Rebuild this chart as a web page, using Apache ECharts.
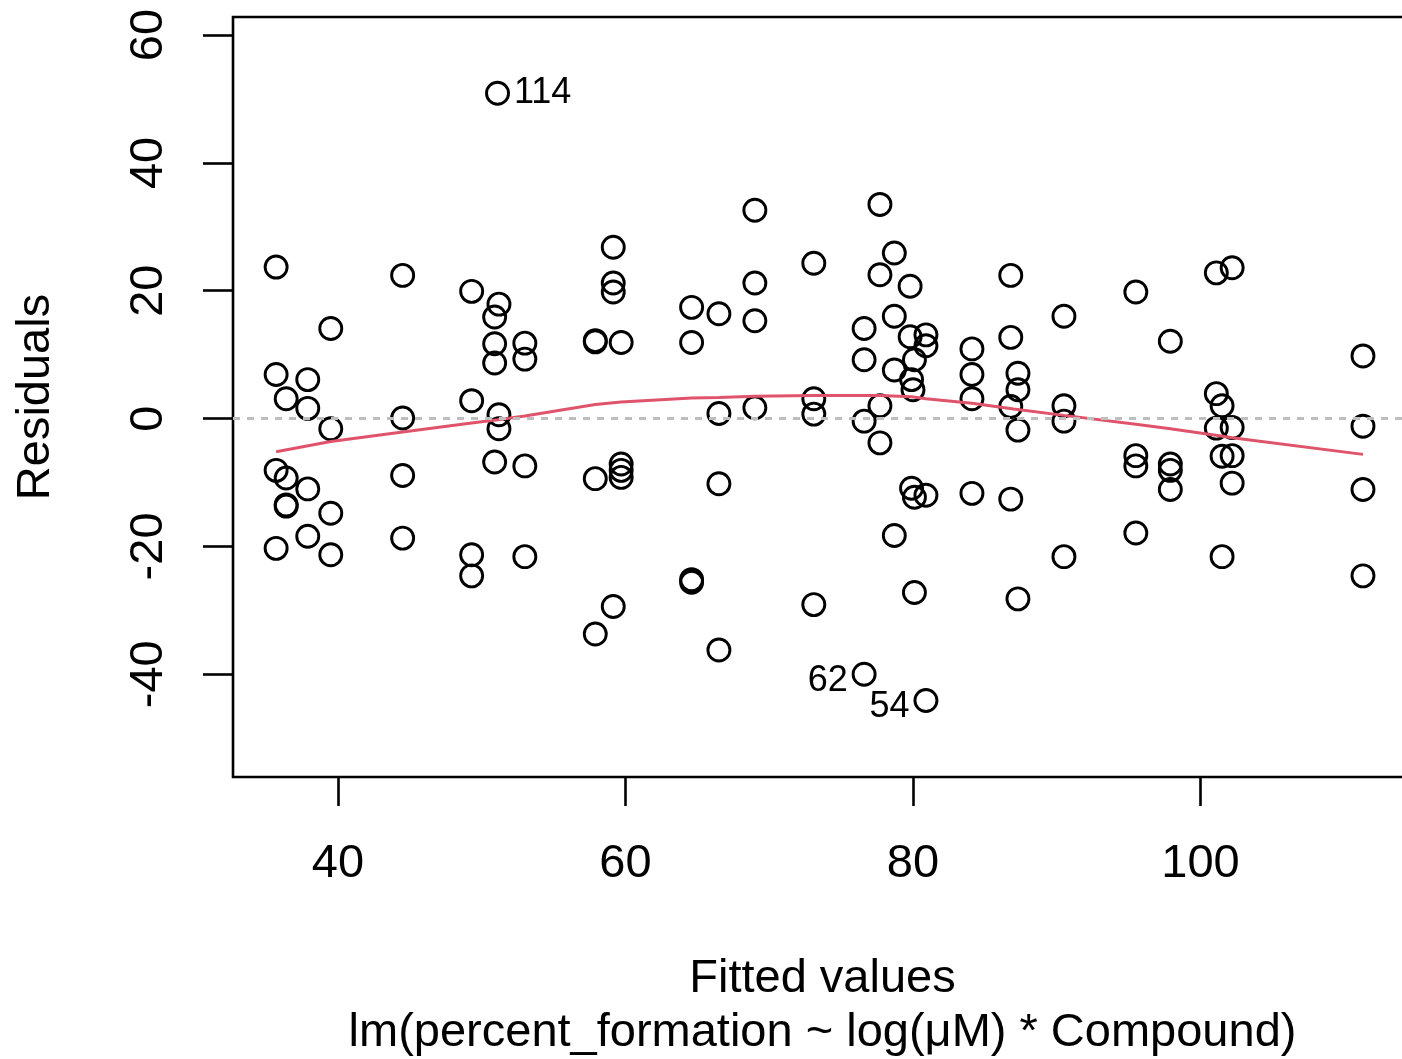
<!DOCTYPE html>
<html>
<head>
<meta charset="utf-8">
<title>Residuals vs Fitted</title>
<script src="https://cdn.jsdelivr.net/npm/echarts@6/dist/echarts.min.js"></script>
<style>
  html, body { margin: 0; padding: 0; background: #fff; }
  #chart { width: 1402px; height: 1059px; }
</style>
</head>
<body>
<div id="chart"></div>
<script>
// fitted values / residuals, grouped by fitted value
const fitted = [
  35.7, 35.7, 35.7, 35.7,
  36.4, 36.4, 36.4, 36.4,
  37.9, 37.9, 37.9, 37.9,
  39.5, 39.5, 39.5, 39.5,
  44.5, 44.5, 44.5, 44.5,
  49.3, 49.3, 49.3, 49.3,
  50.9, 50.9, 50.9, 50.9,
  51.2, 51.2, 51.2,
  53.0, 53.0, 53.0, 53.0,
  57.9, 57.9, 57.9, 57.9,
  59.15, 59.15, 59.15, 59.15,
  59.7, 59.7, 59.7, 59.7,
  64.6, 64.6, 64.6, 64.6,
  66.5, 66.5, 66.5, 66.5,
  69.0, 69.0, 69.0, 69.0,
  73.1, 73.1, 73.1, 73.1,
  76.6, 76.6, 76.6,
  77.7, 77.7, 77.7, 77.7,
  78.7, 78.7, 78.7, 78.7,
  79.8, 79.8, 80.1, 79.9, 80.0, 79.9, 80.1, 80.1,
  80.9, 80.9, 80.9,
  84.1, 84.1, 84.1, 84.1,
  86.8, 86.8, 86.8, 86.8,
  87.3, 87.3, 87.3, 87.3,
  90.5, 90.5, 90.5, 90.5,
  95.5, 95.5, 95.5, 95.5,
  97.9, 97.9, 97.9, 97.9,
  101.1, 101.1, 101.1,
  101.5, 101.5, 101.5,
  102.2, 102.2, 102.2, 102.2,
  111.3, 111.3, 111.3, 111.3
]
const residuals = [
  23.7, 6.9, -8.1, -20.3,
  3.1, -9.3, -13.5, -13.7,
  6.1, 1.6, -11.0, -18.4,
  14.1, -1.6, -14.8, -21.3,
  22.4, 0.1, -8.9, -18.7,
  19.9, 2.8, -21.3, -24.6,
  15.9, 11.7, 8.7, -6.8,
  17.9, 0.6, -1.6,
  11.8, 9.3, -7.4, -21.6,
  12.2, 12.0, -9.4, -33.7,
  26.8, 21.2, 19.8, -29.4,
  11.9, -7.1, -8.1, -9.2,
  17.4, 11.9, -25.2, -25.6,
  16.4, 0.8, -10.2, -36.2,
  32.6, 21.2, 15.3, 1.7,
  24.3, 3.1, 0.7, -29.1,
  14.1, 9.2, -0.4,
  33.5, 22.5, 2.0, -3.8,
  25.9, 16.0, 7.6, -18.3,
  20.7, 12.8, 9.2, 6.1, 4.5, -10.9, -12.3, -27.2,
  13.1, 11.4, -12.0,
  10.9, 6.9, 3.1, -11.7,
  22.4, 12.7, 1.9, -12.6,
  7.1, 4.5, -1.8, -28.2,
  16.0, 2.0, -0.4, -21.6,
  19.8, -5.8, -7.4, -17.9,
  12.1, -7.1, -8.1, -11.1,
  22.8, 3.9, -1.5,
  2.0, -5.9, -21.6,
  23.6, -1.4, -5.8, -10.1,
  9.8, -1.2, -11.1, -24.6
]

// labelled observations (largest residuals)
const outlierIds = ['114', '62', '54']
const outlierFitted = [51.1, 76.6, 80.9]
const outlierResid = [50.9, -40.0, -44.1]

// smoother through the residuals
const smoothFitted = [35.7, 39.5, 44.5, 49.3, 51.1, 53.0, 57.9, 59.7, 64.6, 66.5, 69.0, 73.1, 76.6, 77.7, 79.9, 80.9, 84.1, 87.0, 90.5, 95.5, 97.9, 101.3, 102.2, 111.3]
const smoothResid = [-5.2, -3.6, -2.1, -0.7, -0.2, 0.4, 2.2, 2.6, 3.2, 3.3, 3.5, 3.6, 3.6, 3.6, 3.4, 3.1, 2.4, 1.5, 0.5, -0.9, -1.6, -2.7, -3.0, -5.6]

const xTicks = [40, 60, 80, 100]
const yTicks = [-40, -20, 0, 20, 40, 60]

const font = "'Liberation Sans', Arial, Helvetica, sans-serif"
const circleStyle = {
  color: 'rgba(0,0,0,0)',
  borderColor: '#000',
  borderWidth: 2.9,
  opacity: 1
}

const chart = echarts.init(document.getElementById('chart'), null, { renderer: 'canvas' })

const points = fitted.map((f, i) => [f, residuals[i]])
const outliers = outlierIds.map((id, i) => {
  const right = outlierFitted[i] < 70
  return {
    value: [outlierFitted[i], outlierResid[i]],
    label: {
      show: true,
      formatter: id,
      position: right ? 'right' : 'left',
      distance: 4,
      offset: right ? [0, 0] : [0, 7]
    }
  }
})

const option = {
  animation: false,
  backgroundColor: '#fff',
  grid: {
    left: 233,
    top: 17,
    right: -10,
    bottom: 282,
    outerBoundsMode: 'none',
    show: true,
    borderColor: '#000',
    borderWidth: 2.6,
    backgroundColor: 'rgba(0,0,0,0)'
  },
  xAxis: {
    type: 'value',
    min: 32.70,
    max: 114.71,
    name: 'Fitted values\nlm(percent_formation ~ log(μM) * Compound)',
    nameLocation: 'middle',
    nameGap: 175,
    nameTextStyle: { fontFamily: font, fontSize: 47, color: '#000', lineHeight: 54 },
    axisLine: { show: false, onZero: false },
    axisTick: { show: true, customValues: xTicks, length: 29, lineStyle: { color: '#000', width: 2.6 } },
    axisLabel: { customValues: xTicks, fontFamily: font, fontSize: 47, color: '#000', margin: 64 },
    splitLine: { show: false }
  },
  yAxis: {
    type: 'value',
    min: -56.07,
    max: 62.82,
    name: 'Residuals',
    nameLocation: 'middle',
    nameGap: 173,
    nameRotate: 90,
    nameTextStyle: { fontFamily: font, fontSize: 47, color: '#000' },
    axisLine: { show: false, onZero: false },
    axisTick: { show: true, customValues: yTicks, length: 30, lineStyle: { color: '#000', width: 2.6 } },
    axisLabel: { customValues: yTicks, rotate: 90, fontFamily: font, fontSize: 47, color: '#000', margin: 60 },
    splitLine: { show: false }
  },
  series: [
    {
      type: 'scatter',
      data: points,
      symbol: 'circle',
      symbolSize: 22,
      itemStyle: circleStyle,
      silent: true,
      z: 2
    },
    {
      type: 'scatter',
      data: outliers,
      symbol: 'circle',
      symbolSize: 22,
      itemStyle: circleStyle,
      label: { fontFamily: font, fontSize: 36, color: '#000' },
      silent: true,
      z: 2
    },
    {
      type: 'line',
      data: smoothFitted.map((f, i) => [f, smoothResid[i]]),
      symbol: 'none',
      lineStyle: { color: '#DF536B', width: 3, opacity: 1 },
      silent: true,
      z: 3,
      markLine: {
        silent: true,
        symbol: 'none',
        label: { show: false },
        lineStyle: { color: '#bebebe', width: 3, type: [7, 7], opacity: 1 },
        data: [{ yAxis: 0 }]
      }
    }
  ]
}

chart.setOption(option)
</script>
</body>
</html>
